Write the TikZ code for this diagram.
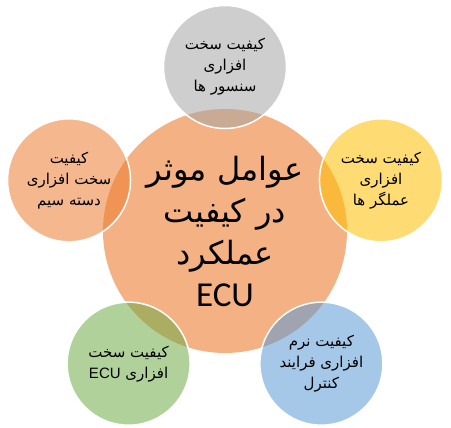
\documentclass[tikz,border=0pt]{standalone}
\usepackage{fontspec}
\usetikzlibrary{shapes}
\TeXXeTstate=1
\newfontfamily\arabicfont[Script=Arabic]{DejaVu Sans}
\newfontfamily\latinfont{Carlito}
\newfontfamily\smalllatin{Liberation Sans}
\definecolor{hubfill}{HTML}{F4B183}
\definecolor{harnessfill}{HTML}{ED7D31}
\definecolor{sensorfill}{HTML}{A5A5A5}
\definecolor{actuatorfill}{HTML}{FFC000}
\definecolor{softfill}{HTML}{5B9BD5}
\definecolor{boardfill}{HTML}{70AD47}
\newcommand{\rtlline}[1]{\beginR #1\endR}
\newcommand{\tECU}{\beginL{\smalllatin ECU}\endL}

\begin{document}
\begin{tikzpicture}[x=1pt,y=1pt,
		hub/.style={circle,fill=hubfill,minimum size=244pt,inner sep=0pt,align=center,
			font=\arabicfont\fontsize{32}{42}\selectfont},
		sat/.style={circle,draw=white,line width=1.5pt,fill opacity=0.55,text opacity=1,
			minimum size=123pt,inner sep=0pt,align=center,font=\arabicfont\fontsize{15}{21}\selectfont}]
		\useasboundingbox (-225,-197) rectangle (226,231);
		
		\node[hub]  (hub)   at (0,0)  	{\rtlline{عوامل موثر}\\\rtlline{در کیفیت}\\\rtlline{عملکرد}\\{\latinfont\fontsize{35}{42}\selectfont ECU}};
		
		\node[sat,fill=sensorfill]  	(sensors)   at (90:164)  	{\rtlline{کیفیت سخت}\\\rtlline{افزاری}\\\rtlline{سنسور ها}};
		\node[sat,fill=actuatorfill]	(actuators) at (18:164)  	{\rtlline{کیفیت سخت}\\\rtlline{افزاری}\\\rtlline{عملگر ها}};
		\node[sat,fill=softfill]    	(software)  at (-54:164) 	{\rtlline{کیفیت نرم}\\\rtlline{افزاری فرایند}\\\rtlline{کنترل}};
		\node[sat,fill=boardfill]   	(board)     at (-126:164)	{\rtlline{کیفیت سخت}\\\rtlline{افزاری \tECU}};
		\node[sat,fill=harnessfill] 	(harness)   at (162:164) 	{\rtlline{کیفیت}\\\rtlline{سخت افزاری}\\\rtlline{دسته سیم}};
		\end{tikzpicture}
\end{document}
